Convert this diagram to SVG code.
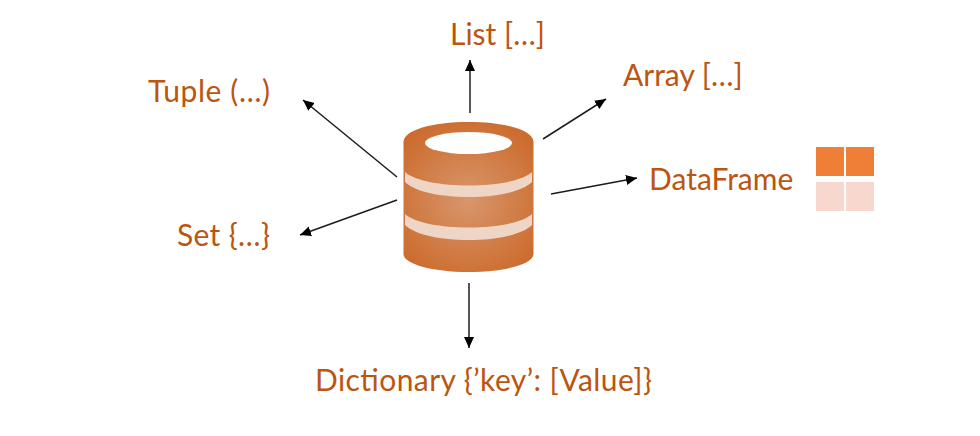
<svg xmlns="http://www.w3.org/2000/svg" width="980" height="436" viewBox="0 0 980 436">
<style>
.t{font-family:"Lato","Open Sans","Liberation Sans",sans-serif;font-size:30px;fill:#bb5510}
.c{stroke:#1c1c1c;stroke-width:1.5;fill:none;marker-end:url(#a)}
.u{fill:#ef7f37}.l{fill:#f7d7ce}
</style>
<defs>
<marker id="a" markerUnits="userSpaceOnUse" markerWidth="12" markerHeight="11" refX="11" refY="5" orient="auto"><path d="M0 0L11 5L0 10Z" fill="#000"/></marker>
<radialGradient id="g" gradientUnits="userSpaceOnUse" cx="468" cy="200" r="85"><stop offset="0" stop-color="#d8966c"/><stop offset="1" stop-color="#cc6c2e"/></radialGradient>
</defs>
<rect width="980" height="436" fill="#fff"/>
<g id="connectors">
<line class="c" x1="470" y1="113" x2="470" y2="60"/>
<line class="c" x1="543" y1="139" x2="606" y2="99"/>
<line class="c" x1="551" y1="194" x2="637" y2="178"/>
<line class="c" x1="397" y1="177" x2="303" y2="100"/>
<line class="c" x1="397" y1="200" x2="300" y2="235"/>
<line class="c" x1="469" y1="283" x2="469" y2="348"/>
</g>
<g id="database">
<path d="M403.500 142C403.500 130 432 122 468.500 122C505 122 533.500 130 533.500 142V254C533.500 264 505 272 468.500 272C432 272 403.500 264 403.500 254Z" fill="url(#g)"/>
<path d="M405 172C425 190 512 190 532 172V182C512 202 425 202 405 182Z" fill="#eed5c5"/>
<path d="M405 214C425 232 512 232 532 214V225C512 245 425 245 405 225Z" fill="#eed5c5"/>
<ellipse cx="468.500" cy="143" rx="43.500" ry="11" fill="#fff"/>
</g>
<g id="list"><text class="t" x="450" y="45">List […]</text></g>
<g id="array"><text class="t" x="623" y="86">Array […]</text></g>
<g id="tuple"><text class="t" x="148" y="102" textLength="122">Tuple (…)</text></g>
<g id="set"><text class="t" x="177" y="246" textLength="93">Set {…}</text></g>
<g id="dataframe"><text class="t" x="649" y="190">DataFrame</text>
<rect class="u" x="816" y="147" width="28" height="29"/><rect class="u" x="846" y="147" width="28" height="29"/>
<rect class="l" x="816" y="182" width="28" height="29"/><rect class="l" x="846" y="182" width="28" height="29"/></g>
<g id="dictionary"><text class="t" x="315" y="391" textLength="337">Dictionary {’key’: [Value]}</text></g>
</svg>
